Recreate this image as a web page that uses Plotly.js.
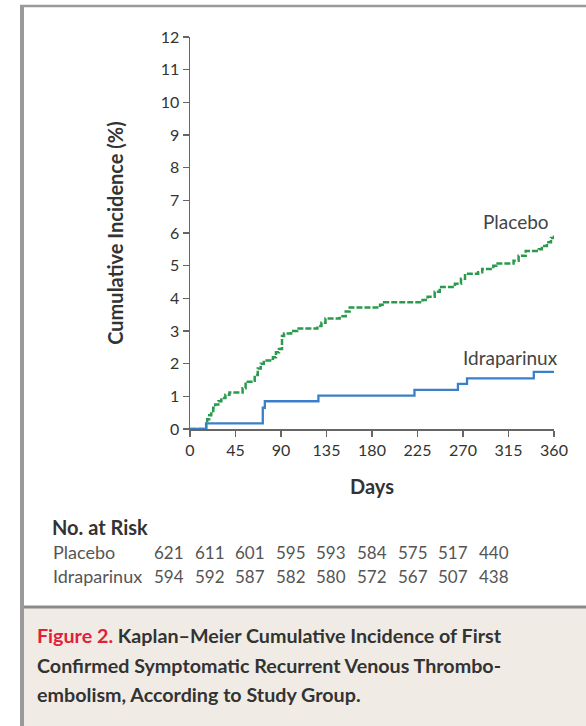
<!DOCTYPE html>
<html>
<head>
<meta charset="utf-8">
<script src="https://cdn.plot.ly/plotly-3.0.1.min.js"></script>
<style>html,body{margin:0;padding:0;background:#fff;}#chart{width:586px;height:726px;}</style>
</head>
<body>
<div id="chart"></div>
<script>
// ---- data ----
const placeboDays = [0,15,16,17,19,21,23,25,28,31,35,39,52,55,62,64,67,70,73,82,85,88,91,93,100,106,126,130,134,148,154,158,188,192,230,235,242,247,262,268,272,285,289,300,303,320,325,332,345,348,353,357,360];
const placeboPct  = [0,0,0.15,0.3,0.42,0.55,0.65,0.75,0.85,0.95,1.05,1.12,1.25,1.45,1.48,1.65,1.85,2.0,2.1,2.2,2.35,2.45,2.85,2.92,3.0,3.08,3.15,3.25,3.38,3.45,3.6,3.72,3.8,3.88,3.95,4.05,4.2,4.35,4.45,4.6,4.75,4.8,4.9,5.0,5.07,5.15,5.3,5.45,5.5,5.6,5.72,5.85,5.92];
const idraDays = [0,15,16,72,74,127,222,265,274,340,360];
const idraPct  = [0,0,0.17,0.65,0.85,1.02,1.2,1.38,1.55,1.75,1.75];

const xTicks = [0,45,90,135,180,225,270,315,360];
const yTicks = [0,1,2,3,4,5,6,7,8,9,10,11,12];

const riskGroups = ["Placebo","Idraparinux"];
const riskPlacebo = [621,611,601,595,593,584,575,517,440];
const riskIdra    = [594,592,587,582,580,572,567,507,438];

const captionLines = [
  '<span style="color:#e3203a">Figure 2.</span> Kaplan\u2013Meier Cumulative Incidence of First',
  'Confirmed Symptomatic Recurrent Venous Thrombo-',
  'embolism, According to Study Group.'
];

// ---- layout helpers (pixel -> paper) ----
const W = 586, H = 726;
const M = {l:190, r:32, t:37, b:297};
const pw = W - M.l - M.r, ph = H - M.t - M.b;
const px = x => (x - M.l) / pw;
const py = y => (H - M.b - y) / ph;

const FONT = "Lato, 'Open Sans', sans-serif";
const TXT = "#3c3c3c";

const traces = [
  {x: placeboDays, y: placeboPct, mode: "lines", line: {shape: "hv", color: "#2a9a4c", width: 2.5, dash: "6px,2px"}, name: "Placebo", hoverinfo: "skip"},
  {x: idraDays, y: idraPct, mode: "lines", line: {shape: "hv", color: "#3a80c8", width: 2.3}, name: "Idraparinux", hoverinfo: "skip"}
];

const ann = [];
ann.push({xref:"x", yref:"y", x: 322, y: 6.34, text: "Placebo", showarrow:false, font:{family:FONT, size:19, color:"#444"}});
ann.push({xref:"x", yref:"y", x: 317, y: 2.2, text: "Idraparinux", showarrow:false, font:{family:FONT, size:19, color:"#444"}});

// at-risk table
ann.push({xref:"paper", yref:"paper", x: px(50), y: py(527), xanchor:"left", yanchor:"middle", text:"<b>No. at Risk</b>", showarrow:false, font:{family:FONT, size:20, color:"#333"}});
const rowY = [552, 576];
const rowVals = [riskPlacebo, riskIdra];
riskGroups.forEach((g, i) => {
  ann.push({xref:"paper", yref:"paper", x: px(51), y: py(rowY[i]), xanchor:"left", yanchor:"middle", text:g, showarrow:false, font:{family:FONT, size:18, color:"#555"}});
  rowVals[i].forEach((v, j) => {
    ann.push({xref:"paper", yref:"paper", x: px(169 + j*40.6), y: py(rowY[i]), xanchor:"center", yanchor:"middle", text:String(v), showarrow:false, font:{family:FONT, size:17, color:"#555"}});
  });
});

// caption
const capY = [636, 665, 694];
captionLines.forEach((t, i) => {
  ann.push({xref:"paper", yref:"paper", x: px(35), y: py(capY[i]), xanchor:"left", yanchor:"middle", text:"<b>"+t+"</b>", showarrow:false, font:{family:FONT, size:19.7, color:"#333"}});
});

const shapes = [
  {type:"rect", xref:"paper", yref:"paper", x0:px(22), x1:px(590), y0:py(607), y1:py(730), fillcolor:"#f0ece5", line:{width:0}, layer:"below"},
  {type:"line", xref:"paper", yref:"paper", x0:px(22), x1:px(590), y0:py(607), y1:py(607), line:{color:"#8a8a8a", width:3}},
  {type:"line", xref:"paper", yref:"paper", x0:px(22), x1:px(22), y0:py(5), y1:py(730), line:{color:"#9a9a9a", width:4}},
  {type:"line", xref:"paper", yref:"paper", x0:px(20), x1:px(590), y0:py(6), y1:py(6), line:{color:"#9a9a9a", width:2.5}}
];

const layout = {
  width: W, height: H,
  margin: M,
  paper_bgcolor: "#fff", plot_bgcolor: "#fff",
  showlegend: false,
  font: {family: FONT, color: TXT},
  xaxis: {
    range: [0, 360], tickvals: xTicks, ticktext: xTicks.map(String),
    showgrid: false, zeroline: false, showline: true, linecolor: "#666", linewidth: 1.5,
    ticks: "outside", ticklen: 6, tickwidth: 1.5, tickcolor: "#666",
    tickfont: {family: FONT, size: 16, color: "#333"},
    title: {text: "<b>Days</b>", font: {family: FONT, size: 20, color: "#333"}, standoff: 22},
    automargin: false, fixedrange: true
  },
  yaxis: {
    range: [0, 12], tickvals: yTicks, ticktext: yTicks.map(String),
    showgrid: false, zeroline: false, showline: true, linecolor: "#666", linewidth: 1.5,
    ticks: "outside", ticklen: 6, tickwidth: 1.5, tickcolor: "#666",
    tickfont: {family: FONT, size: 16, color: "#333"},
    title: {text: "<b>Cumulative Incidence (%)</b>", font: {family: FONT, size: 20, color: "#333"}, standoff: 31},
    automargin: false, fixedrange: true
  },
  annotations: ann,
  shapes: shapes
};

Plotly.newPlot("chart", traces, layout, {staticPlot: true, displayModeBar: false});
</script>
</body>
</html>
